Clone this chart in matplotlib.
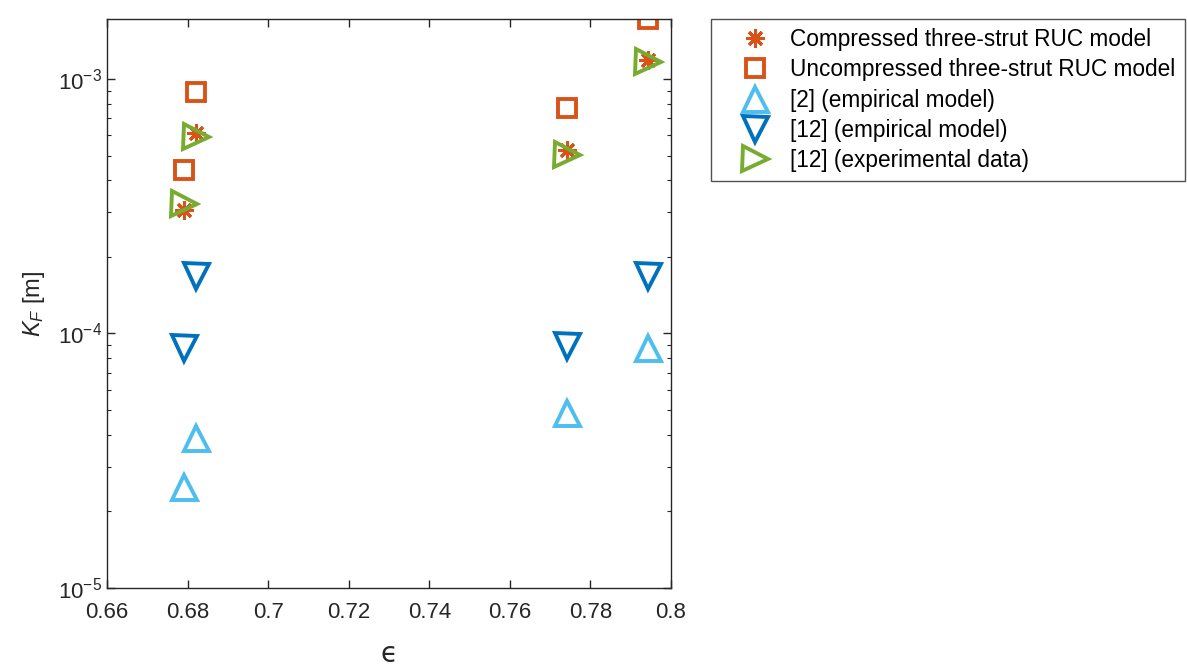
import matplotlib
matplotlib.use("Agg")
import matplotlib.pyplot as plt
from matplotlib.ticker import LogLocator, NullFormatter

plt.rcParams["font.family"] = ["Liberation Sans", "DejaVu Sans"]
plt.rcParams["mathtext.fontset"] = "custom"
plt.rcParams["mathtext.rm"] = "Liberation Sans"
plt.rcParams["mathtext.it"] = "Liberation Sans:italic"

# porosity values for each sample
eps_compressed = [0.6790, 0.6820, 0.7741, 0.7942]
eps_empirical = [0.6790, 0.6820, 0.7741, 0.7942]

# permeability-like K_F [m]
k_compressed = [3.05e-4, 6.14e-4, 5.26e-4, 1.19e-3]
k_uncompressed = [4.39e-4, 8.89e-4, 7.69e-4, 1.72e-3]
k_ref2 = [2.49e-5, 3.88e-5, 4.88e-5, 8.8e-5]
k_ref12_model = [8.77e-5, 1.68e-4, 8.93e-5, 1.68e-4]
k_ref12_exp = [3.23e-4, 5.92e-4, 5.02e-4, 1.17e-3]

labels = ["Compressed three-strut RUC model",
          "Uncompressed three-strut RUC model",
          "[2] (empirical model)",
          "[12] (empirical model)",
          "[12] (experimental data)"]

ORANGE = "#D95319"
LBLUE = "#4DBEEE"
DBLUE = "#0072BD"
GREEN = "#77AC30"
AX = "#262626"

fig = plt.figure(figsize=(11.87, 6.71), dpi=100)
ax = fig.add_axes([107 / 1187, 1 - 588 / 671, (671 - 107) / 1187, (588 - 19) / 671])

kw = dict(linestyle="none", markerfacecolor="none")
ax.plot(eps_compressed, k_compressed, marker=(8, 2, 0), color=ORANGE,
        markersize=13, markeredgewidth=2.2, linestyle="none", label=labels[0])
ax.plot(eps_compressed, k_uncompressed, marker="s", color=ORANGE,
        markersize=13, markeredgewidth=2.8, label=labels[1], **kw)
ax.plot(eps_empirical, k_ref2, marker="^", color=LBLUE,
        markersize=18, markeredgewidth=2.8, label=labels[2], **kw)
ax.plot(eps_empirical, k_ref12_model, marker="v", color=DBLUE,
        markersize=18, markeredgewidth=2.8, label=labels[3], **kw)
ax.plot(eps_empirical, k_ref12_exp, marker=">", color=GREEN,
        markersize=18, markeredgewidth=2.8, label=labels[4], **kw)

ax.set_yscale("log")
ax.set_xlim(0.66, 0.8)
ax.set_ylim(1e-5, 1.72e-3)
ax.set_xticks([0.66, 0.68, 0.7, 0.72, 0.74, 0.76, 0.78, 0.8])
ax.set_xticklabels(["0.66", "0.68", "0.7", "0.72", "0.74", "0.76", "0.78", "0.8"])
ax.yaxis.set_minor_locator(LogLocator(base=10, subs=range(2, 10), numticks=20))
ax.yaxis.set_minor_formatter(NullFormatter())
ax.set_yticks([1e-5, 1e-4, 1e-3])

ax.tick_params(axis="both", which="both", direction="in", top=True, right=True,
               colors=AX, labelcolor=AX, labelsize=16)
ax.tick_params(which="major", length=6, width=1)
ax.tick_params(which="minor", length=3, width=0.8)
ax.tick_params(axis="x", pad=10)
for s in ax.spines.values():
    s.set_color(AX)
    s.set_linewidth(1)

ax.set_xlabel("ϵ", fontsize=20, color=AX, labelpad=12, family=["DejaVu Sans"])
ax.set_ylabel(r"$K_F$ [m]", fontsize=17, color=AX, labelpad=8)

leg = fig.legend(loc="upper left", bbox_to_anchor=(711 / 1187, 1 - 19 / 671),
                 fontsize=16.3, frameon=True, fancybox=False, edgecolor=AX,
                 handlelength=3.1, handletextpad=0.0, labelspacing=0.32,
                 borderpad=0.4, borderaxespad=0)
leg.get_frame().set_linewidth(1)

fig.savefig("out.png", dpi=100)
